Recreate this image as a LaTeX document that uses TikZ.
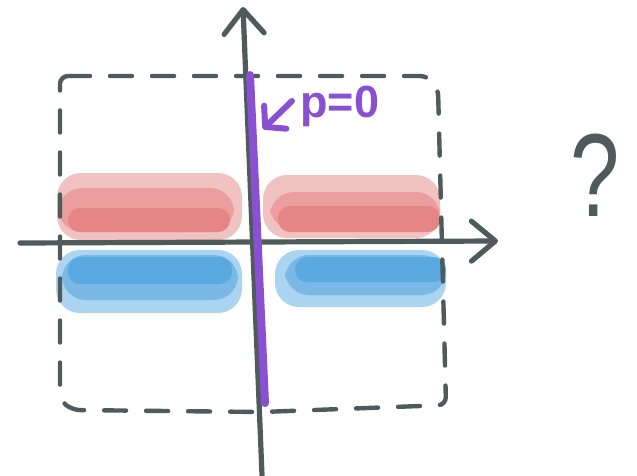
\documentclass[tikz,border=0pt]{standalone}
\usepackage{fontspec}
\setmainfont{Liberation Sans}
\usepackage{tikz}
\usetikzlibrary{arrows.meta}
\definecolor{slate}{HTML}{4F5A5A}
\definecolor{plum}{HTML}{8A50D2}
\definecolor{redA}{HTML}{F1C2C2}
\definecolor{redB}{HTML}{EB9E9E}
\definecolor{redC}{HTML}{E58585}
\definecolor{blueA}{HTML}{AAD4F0}
\definecolor{blueB}{HTML}{7AB9E6}
\definecolor{blueC}{HTML}{5AA9E0}

\begin{document}
\begin{tikzpicture}[x=0.025cm, y=-0.025cm,
    axis/.style={draw=slate, line width=0.13cm, line cap=round, -{Straight Barb[length=0.6cm, width=1.0cm, round]}},
    frame/.style={draw=slate, line width=0.11cm, line cap=round, dash pattern=on 0.55cm off 0.5cm, rounded corners=0.2cm},
    band/.style={rounded corners=0.6cm},
    thinband/.style={rounded corners=0.3cm},
    plumline/.style={draw=plum, line width=0.2cm, line cap=round},
    plumarrow/.style={draw=plum, line width=0.15cm, line cap=round, -{Straight Barb[length=0.35cm, width=0.8cm, round]}}
]
\useasboundingbox (0,0) rectangle (637,475);

\fill[band, redA] (57,173) rectangle (242,240);
\fill[band, redB] (58,188) rectangle (234,232);
\fill[thinband, redC] (68,208) rectangle (230,232);
\fill[band, redA] (263,175) rectangle (440,238);
\fill[band, redB] (270,192) rectangle (440,230);
\fill[thinband, redC] (278,206) rectangle (440,232);

\fill[band, blueA] (56,250) rectangle (242,313);
\fill[band, blueB] (62,255) rectangle (238,300);
\fill[thinband, blueC] (68,257) rectangle (232,284);
\fill[band, blueA] (275,250) rectangle (446,307);
\fill[band, blueB] (285,255) rectangle (446,295);
\fill[thinband, blueC] (295,257) rectangle (446,282);

\draw[frame] (60,76) -- (428,76) -- (438,88) -- (446,405) -- (262,412) -- (72,410) -- (60,400) -- cycle;

\coordinate (xstart) at (20,243);
\coordinate (xend) at (498,241);
\coordinate (ystart) at (262,475);
\coordinate (yend) at (243,7);
\draw[axis] (xstart) -- (xend);
\draw[axis] (ystart) -- (yend);

\coordinate (ptop) at (250,75);
\coordinate (pbottom) at (265,403);
\draw[plumline] (ptop) -- (pbottom);

\node[text=plum, font=\bfseries\fontsize{32}{32}\selectfont, anchor=west, inner sep=0pt] (plabel) at (300,106) {p=0};
\coordinate (pstart) at (292,101);
\coordinate (pmark) at (263,129);
\draw[plumarrow] (pstart) -- (pmark);

\node[text=slate, font=\fontsize{84}{84}\selectfont, xscale=0.75] (qmark) at (595,175) {?};

\end{tikzpicture}
\end{document}
